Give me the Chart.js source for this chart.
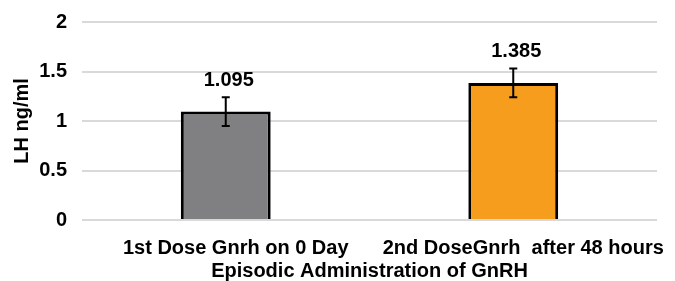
<!DOCTYPE html>
<html>
<head>
<meta charset="utf-8">
<script src="https://cdn.jsdelivr.net/npm/chart.js@4.4.1/dist/chart.umd.min.js"></script>
<style>
    html, body { margin: 0; padding: 0; background: #fff; }
    #wrap { width: 675px; height: 281px; }
</style>
</head>
<body>
<div id="wrap"><canvas id="myChart" width="675" height="281"></canvas></div>
<script>
// chart values
const doses = ["1st Dose Gnrh on 0 Day", "2nd DoseGnrh  after 48 hours"];
const lhMeans = [1.095, 1.385];     // LH ng/ml
const lhErrors = [0.145, 0.145];    // +/- error bar
const barColors = ["#808082", "#f79d1e"];
const yTicks = [0, 0.5, 1, 1.5, 2];

const fontFamily = "'Liberation Sans', Arial, sans-serif";

// error bars + value labels drawn on top of the bars
const errorBarsAndLabels = {
    id: "errorBarsAndLabels",
    afterDatasetsDraw(chart) {
        const ctx = chart.ctx;
        const x = chart.scales.x;
        const y = chart.scales.y;
        ctx.save();
        lhMeans.forEach((val, i) => {
            const cx = x.getPixelForValue(i);
            const top = y.getPixelForValue(val + lhErrors[i]);
            const bot = y.getPixelForValue(val - lhErrors[i]);
            ctx.strokeStyle = "#000";
            ctx.lineWidth = 2;
            ctx.beginPath();
            ctx.moveTo(cx, top); ctx.lineTo(cx, bot);
            ctx.moveTo(cx - 4, top); ctx.lineTo(cx + 4, top);
            ctx.moveTo(cx - 4, bot); ctx.lineTo(cx + 4, bot);
            ctx.stroke();

            ctx.fillStyle = "#000";
            ctx.font = "bold 20px " + fontFamily;
            ctx.textAlign = "center";
            ctx.textBaseline = "middle";
            ctx.fillText(val.toFixed(3), cx + 3, top - 17);
        });
        ctx.restore();
    }
};

const ctx = document.getElementById("myChart");
const myChart = new Chart(ctx, {
    type: "bar",
    data: {
        labels: doses,
        datasets: [{
            data: lhMeans,
            backgroundColor: barColors,
            borderColor: "#000",
            borderWidth: 3,
            categoryPercentage: 1,
            barPercentage: 0.3125,
        }]
    },
    options: {
        responsive: false,
        animation: false,
        layout: { padding: { top: 22, right: 18, left: 0, bottom: 0 } },
        scales: {
            x: {
                grid: { display: false },
                border: { display: false },
                ticks: {
                    color: "#000",
                    padding: 8,
                    labelOffset: 10,
                    maxRotation: 0,
                    font: { family: fontFamily, size: 20, weight: "bold" }
                },
                title: {
                    display: true,
                    text: "Episodic Administration of GnRH",
                    color: "#000",
                    padding: { top: 0, bottom: -2 },
                    font: { family: fontFamily, size: 20, weight: "bold" }
                },
                afterFit(scale) { scale.height = 61; }
            },
            y: {
                min: 0,
                max: 2,
                afterBuildTicks(scale) {
                    scale.ticks = yTicks.map(v => ({ value: v }));
                },
                grid: { color: "#d9d9d9", lineWidth: 2, drawTicks: false },
                border: { display: false },
                ticks: {
                    color: "#000",
                    padding: 15,
                    callback: v => String(v),
                    font: { family: fontFamily, size: 20, weight: "bold" }
                },
                title: {
                    display: true,
                    text: "LH ng/ml",
                    color: "#000",
                    padding: { top: 10, bottom: 0 },
                    font: { family: fontFamily, size: 20, weight: "bold" }
                },
                afterFit(scale) {
                    scale.width = 82;
                    scale.paddingTop = 0; // keep the plot top at the layout padding
                    scale.paddingBottom = 0;
                }
            }
        },
        plugins: {
            legend: { display: false },
            tooltip: { enabled: false }
        }
    },
    plugins: [errorBarsAndLabels]
});
</script>
</body>
</html>
